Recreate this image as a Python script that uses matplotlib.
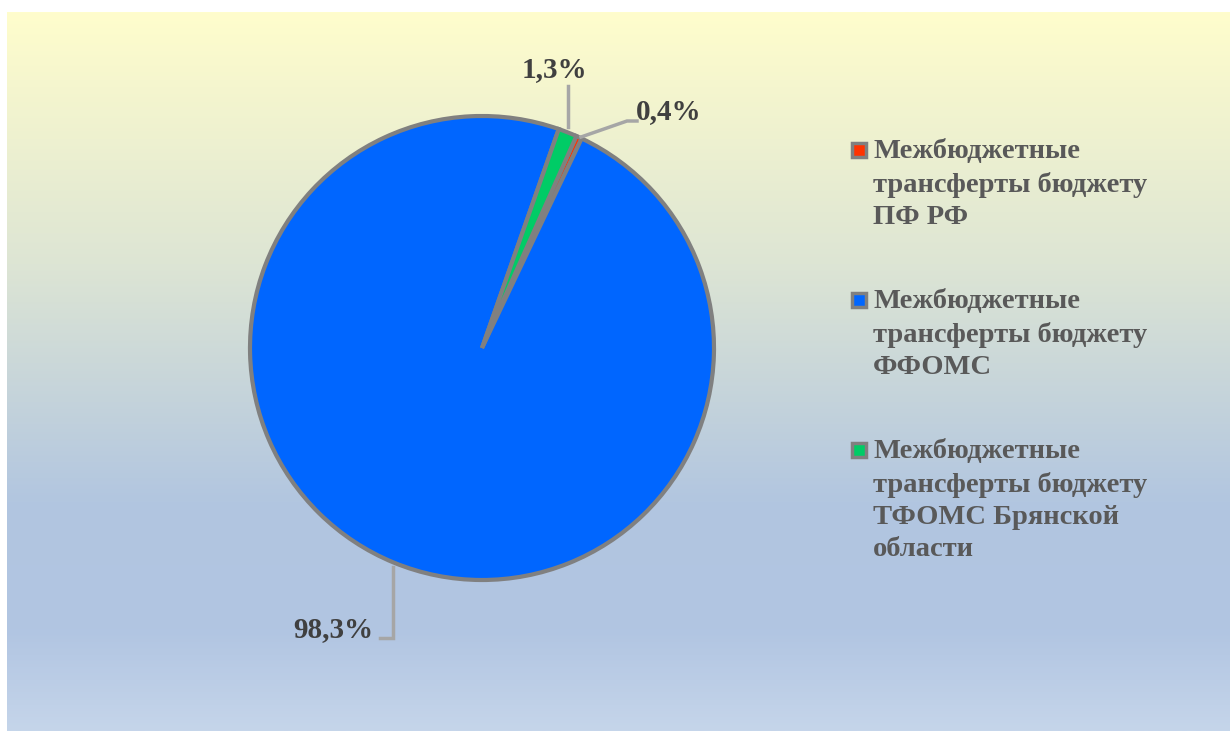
import numpy as np
import matplotlib.pyplot as plt
from matplotlib.colors import LinearSegmentedColormap
from matplotlib.patches import Rectangle

# data
labels = ["Межбюджетные\nтрансферты бюджету\nПФ РФ",
          "Межбюджетные\nтрансферты бюджету\nФФОМС",
          "Межбюджетные\nтрансферты бюджету\nТФОМС Брянской\nобласти"]
values = [0.4, 98.3, 1.3]
colors = ["#FF3300", "#0066FF", "#00CC66"]

serif = ["Liberation Serif", "DejaVu Serif"]
text_col = "#595959"

fig = plt.figure(figsize=(12.3, 7.31), dpi=100)
fig.patch.set_facecolor("white")

# gradient background
bg = fig.add_axes([7 / 1230, 0, 1 - 7 / 1230, 1 - 12 / 731])
bg_cmap = LinearSegmentedColormap.from_list(
    "bg", [(0.0, "#FFFDCC"), (0.35, "#DDE5D4"), (0.68, "#B2C6E0"),
           (0.86, "#B1C5E2"), (1.0, "#C5D5EA")])
grad = np.linspace(0, 1, 256).reshape(-1, 1)
bg.imshow(grad, aspect="auto", cmap=bg_cmap, extent=[0, 1, 1, 0])
bg.set_axis_off()

# pie: center (482, 348), radius 232 px
W, H = 1230, 731
cx, cy, r = 482, 348, 232
ax = fig.add_axes([(cx - r) / W, 1 - (cy + r) / H, 2 * r / W, 2 * r / H])
wedges, _ = ax.pie(values, colors=colors, startangle=66, counterclock=False,
                   wedgeprops=dict(edgecolor="#808080", linewidth=3))
ax.set_xlim(-1, 1)
ax.set_ylim(-1, 1)
ax.set_aspect("auto")
ax.set_axis_off()


def fmt(v):
    return ("%.1f" % v).replace(".", ",") + "%"


def px(x, y):
    # pixel coords -> pie data coords
    return ((x - cx) / r, (cy - y) / r)


# leader lines and labels (placed by hand like in the original)
label_pos = [(669, 112), (333, 630), (554, 70)]
leaders = [[(581, 137), (627, 121), (637, 121)],
           [(393, 567), (393, 638), (380, 638)],
           [(568, 127), (568, 86)]]
for v, (lx, ly), pts in zip(values, label_pos, leaders):
    xs, ys = zip(*[px(*p) for p in pts])
    ax.plot(xs, ys, color="#A6A6A6", lw=2.5, clip_on=False,
            solid_joinstyle="miter")
    tx, ty = px(lx, ly)
    ax.text(tx, ty, fmt(v), ha="center", va="center", fontsize=21,
            fontweight="bold", color="#404040", family=serif, clip_on=False)

# legend drawn by hand: marker aligned to first line
legend_y = [150, 300, 450]
for lab, col, y in zip(labels, colors, legend_y):
    fig.patches.append(Rectangle((852 / W, 1 - (y + 7) / H), 14 / W, 14 / H,
                                 transform=fig.transFigure, facecolor=col,
                                 edgecolor="#808080", linewidth=2.5))
    fig.text(873 / W, 1 - (y - 11) / H, lab, ha="left", va="top",
             fontsize=20.5, fontweight="bold", color=text_col, family=serif,
             linespacing=1.38)

fig.savefig("out.png", dpi=100)
